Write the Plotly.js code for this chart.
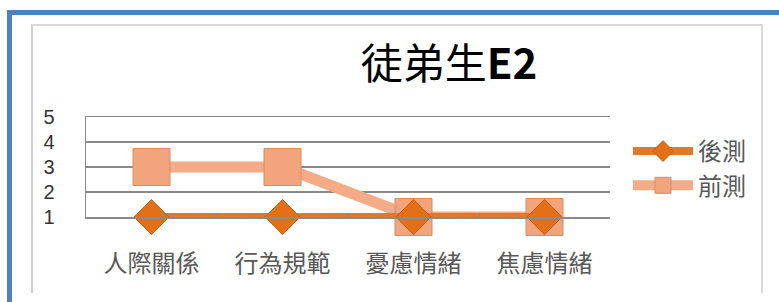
<!DOCTYPE html>
<html>
<head>
<meta charset="utf-8">
<script src="https://cdn.plot.ly/plotly-3.0.1.min.js"></script>
<style>
  html, body { margin: 0; padding: 0; background: #fff; }
  #wrap { position: relative; width: 779px; height: 302px; overflow: hidden; background: #fff; }
  #blue { position: absolute; left: 7px; top: 10px; width: 790px; height: 400px;
          border-top: 5px solid #4f81bd; border-left: 5px solid #4f81bd; box-sizing: border-box; }
  #gray { position: absolute; left: 31px; top: 24px; width: 732px; height: 269px;
          border-top: 2px solid #d9d9d9; border-left: 2px solid #d0d0d0; border-right: 2px solid #d9d9d9;
          box-sizing: border-box; }
  #chart { position: absolute; left: 0; top: 0; width: 779px; height: 302px; }
</style>
</head>
<body>
<div id="wrap">
  <div id="blue"></div>
  <div id="gray"></div>
  <div id="chart"></div>
</div>
<script>
const categories = ["人際關係", "行為規範", "憂慮情緒", "焦慮情緒"];
const postTest = [1, 1, 1, 1];   // 後測
const preTest  = [3, 3, 1, 1];   // 前測
const seriesNames = ["後測", "前測"];
const chartTitle = "徒弟生<b>E2</b>";
const yTicks = [1, 2, 3, 4, 5];

const cjk = '"Noto Sans CJK TC", "Noto Sans CJK SC", sans-serif';

const traces = [
  {
    type: "scatter", mode: "lines+markers", name: seriesNames[1],
    x: categories, y: preTest,
    line: { color: "#f4ab87", width: 11 },
    marker: { symbol: "square", size: 37, color: "#f2a47c", line: { color: "#d98c62", width: 1 } },
    cliponaxis: false
  },
  {
    type: "scatter", mode: "lines+markers", name: seriesNames[0],
    x: categories, y: postTest,
    line: { color: "#e0792b", width: 8 },
    marker: { symbol: "diamond", size: 27, color: "#e36f17", line: { color: "#c65f12", width: 1 } },
    cliponaxis: false
  }
];

const layout = {
  width: 779, height: 302,
  paper_bgcolor: "rgba(0,0,0,0)", plot_bgcolor: "rgba(0,0,0,0)",
  margin: { l: 85.5, r: 168.5, t: 117, b: 85 },
  title: {
    text: chartTitle, xref: "container", yref: "container",
    x: 449 / 779, xanchor: "center", y: 1 - 64 / 302, yanchor: "middle",
    font: { family: cjk, size: 42, color: "#000" }
  },
  xaxis: {
    type: "category", range: [-0.5, 3.5],
    showgrid: false, zeroline: false,
    showline: true, mirror: true, linecolor: "#8a8a8a", linewidth: 1.5,
    ticks: "inside", tickson: "boundaries", ticklen: 4, tickcolor: "#888", tickwidth: 1,
    tickfont: { family: cjk, size: 24, color: "#595959" },
    ticklabelstandoff: 25
  },
  yaxis: {
    range: [1, 5], tickvals: yTicks, ticktext: yTicks.map(String),
    showgrid: true, gridcolor: "#8a8a8a", gridwidth: 1.5,
    showline: true, linecolor: "#8a8a8a", linewidth: 1.5,
    zeroline: false, ticks: "",
    tickfont: { family: "Liberation Sans, Arial, sans-serif", size: 20, color: "#333" },
    ticklabelstandoff: 26
  },
  showlegend: true,
  legend: {
    traceorder: "reversed",
    xref: "container", yref: "container",
    x: 628 / 779, xanchor: "left", y: 1 - 168.5 / 302, yanchor: "middle",
    font: { family: cjk, size: 24, color: "#595959" },
    itemwidth: 60, tracegroupgap: 0, bgcolor: "rgba(0,0,0,0)"
  }
};

Plotly.newPlot("chart", traces, layout, { displayModeBar: false, staticPlot: true });
</script>
</body>
</html>
